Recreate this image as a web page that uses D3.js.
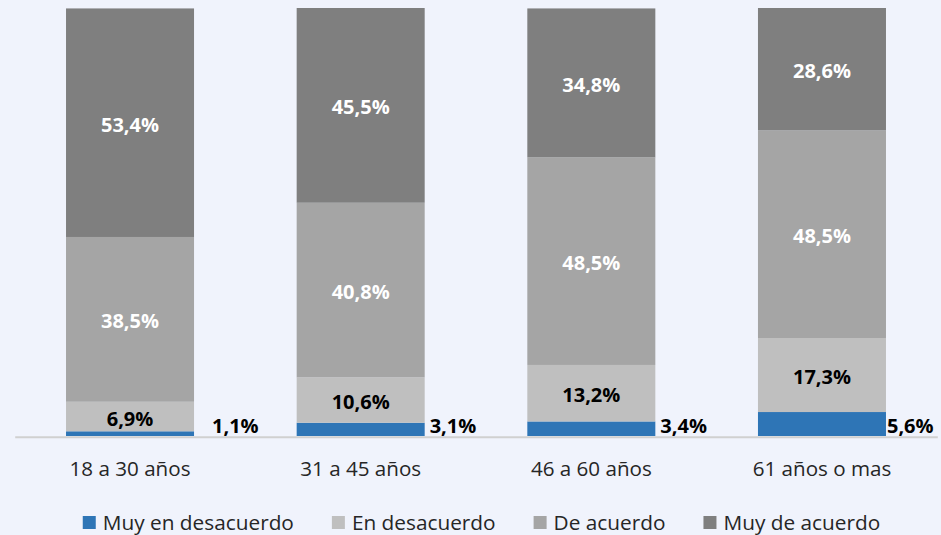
<!DOCTYPE html>
<html>
<head>
<meta charset="utf-8">
<script src="https://cdn.jsdelivr.net/npm/d3@7"></script>
<style>
  html, body { margin: 0; padding: 0; background: #f0f3fc; }
  svg { display: block; }
</style>
</head>
<body>
<svg id="chart" width="941" height="535"></svg>
<script>
// ---- Data ----
const categories = ["18 a 30 años", "31 a 45 años", "46 a 60 años", "61 años o mas"];
const seriesNames = ["Muy en desacuerdo", "En desacuerdo", "De acuerdo", "Muy de acuerdo"];
const muyEnDesacuerdo = [1.1, 3.1, 3.4, 5.6];
const enDesacuerdo = [6.9, 10.6, 13.2, 17.3];
const deAcuerdo = [38.5, 40.8, 48.5, 48.5];
const muyDeAcuerdo = [53.4, 45.5, 34.8, 28.6];

// ---- Styles ----
const colors = ["#2e75b6", "#bfbfbf", "#a5a5a5", "#7f7f7f"];
const labelColors = ["#000000", "#000000", "#ffffff", "#ffffff"];
const FONT = "'Open Sans', 'Liberation Sans', sans-serif";

const rows = categories.map((c, i) => ({
  cat: c,
  [seriesNames[0]]: muyEnDesacuerdo[i],
  [seriesNames[1]]: enDesacuerdo[i],
  [seriesNames[2]]: deAcuerdo[i],
  [seriesNames[3]]: muyDeAcuerdo[i]
}));

const svg = d3.select("#chart");
svg.append("rect").attr("width", 941).attr("height", 535).attr("fill", "#f0f3fc");

const x = d3.scaleBand().domain(categories).range([14.7, 937.3])
  .paddingInner(0.445).paddingOuter(0.2225);
const y = d3.scaleLinear().domain([0, 100]).range([436, 8]);

const stacked = d3.stack().keys(seriesNames)(rows);

const fmt = v => d3.format(".1f")(v).replace(".", ",") + "%";

const layers = svg.append("g").selectAll("g")
  .data(stacked).join("g")
  .attr("fill", (d, i) => colors[i]);

layers.selectAll("rect")
  .data(d => d)
  .join("rect")
  .attr("x", d => x(d.data.cat))
  .attr("width", x.bandwidth())
  .attr("y", d => y(d[1]))
  .attr("height", d => y(d[0]) - y(d[1]));

// Axis
const axis = svg.append("g")
  .attr("transform", "translate(0,436.7)")
  .call(d3.axisBottom(x).tickSize(0).tickPadding(25));
axis.select(".domain").attr("stroke", "#d0d0d0").attr("stroke-width", 2);
axis.selectAll("text")
  .attr("font-family", FONT).attr("font-size", 20.6).attr("fill", "#262626");

// Labels inside (series 1..3)
const labelG = svg.append("g").attr("font-family", FONT).attr("font-weight", "bold").attr("font-size", 20);
stacked.forEach((layer, si) => {
  if (si === 0) return;
  labelG.selectAll(null)
    .data(layer).join("text")
    .attr("x", d => x(d.data.cat) + x.bandwidth() / 2)
    .attr("y", d => (y(d[0]) + y(d[1])) / 2 + 1.5)
    .attr("text-anchor", "middle")
    .attr("dominant-baseline", "central")
    .attr("fill", labelColors[si])
    .text(d => fmt(d[1] - d[0]));
});

// Outside labels for the first series
const outsideNudge = [18, 5, 5, 1];
labelG.selectAll(null)
  .data(stacked[0]).join("text")
  .attr("x", (d, i) => x(d.data.cat) + x.bandwidth() + outsideNudge[i])
  .attr("y", 433)
  .attr("text-anchor", "start")
  .attr("fill", labelColors[0])
  .text(d => fmt(d[1] - d[0]));

// Legend
const legend = svg.append("g").attr("font-family", FONT).attr("font-size", 20.8);
const items = legend.selectAll("g").data(seriesNames).join("g");
items.append("rect").attr("width", 13).attr("height", 13).attr("y", 516)
  .attr("fill", (d, i) => colors[i]);
items.append("text").attr("x", 20).attr("y", 530).attr("fill", "#262626").text(d => d);
let widths = [];
items.each(function () {
  widths.push(this.querySelector("text").getComputedTextLength());
});
const gap = 38;
const total = d3.sum(widths.map(w => 20 + w)) + gap * (widths.length - 1);
let cx = 481.5 - total / 2;
items.each(function (d, i) {
  d3.select(this).attr("transform", `translate(${cx},0)`);
  cx += 20 + widths[i] + gap;
});
</script>
</body>
</html>
